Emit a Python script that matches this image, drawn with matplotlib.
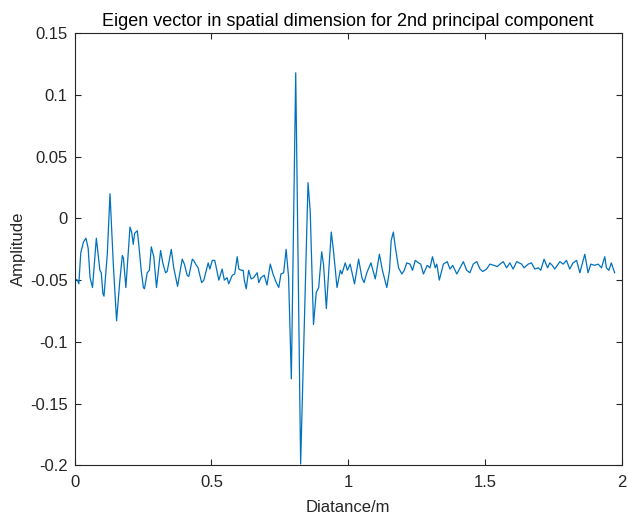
import matplotlib
matplotlib.use("Agg")
import matplotlib.pyplot as plt

plt.rcParams['font.family'] = ['Liberation Sans', 'DejaVu Sans']

# distance along the line (m) and eigenvector amplitude
distance = [
    0.000, 0.010, 0.015, 0.022, 0.032, 0.041, 0.049, 0.056, 0.065, 0.079,
    0.092, 0.097, 0.103, 0.107, 0.119, 0.129, 0.141, 0.153, 0.165, 0.174,
    0.178, 0.187, 0.202, 0.208, 0.214, 0.219, 0.229, 0.235, 0.243, 0.251,
    0.255, 0.265, 0.273, 0.280, 0.289, 0.299, 0.314, 0.322, 0.332, 0.338,
    0.353, 0.362, 0.376, 0.393, 0.401, 0.411, 0.417, 0.430, 0.435, 0.442,
    0.451, 0.464, 0.472, 0.488, 0.494, 0.503, 0.512, 0.527, 0.539, 0.547,
    0.557, 0.563, 0.576, 0.585, 0.594, 0.600, 0.609, 0.616, 0.620, 0.627,
    0.636, 0.645, 0.654, 0.667, 0.673, 0.681, 0.693, 0.703, 0.715, 0.725,
    0.737, 0.746, 0.754, 0.764, 0.773, 0.782, 0.792, 0.808, 0.826, 0.853,
    0.861, 0.873, 0.883, 0.892, 0.903, 0.910, 0.920, 0.938, 0.946, 0.959,
    0.971, 0.977, 0.989, 0.997, 1.007, 1.023, 1.038, 1.050, 1.058, 1.068,
    1.083, 1.099, 1.114, 1.125, 1.141, 1.151, 1.157, 1.165, 1.172, 1.184,
    1.196, 1.205, 1.214, 1.226, 1.235, 1.245, 1.257, 1.265, 1.275, 1.289,
    1.299, 1.308, 1.318, 1.324, 1.333, 1.348, 1.362, 1.372, 1.382, 1.397,
    1.409, 1.421, 1.433, 1.445, 1.457, 1.470, 1.482, 1.492, 1.506, 1.518,
    1.533, 1.545, 1.555, 1.567, 1.579, 1.591, 1.603, 1.616, 1.634, 1.643,
    1.658, 1.670, 1.682, 1.695, 1.704, 1.716, 1.729, 1.737, 1.746, 1.755,
    1.774, 1.786, 1.798, 1.810, 1.822, 1.835, 1.847, 1.865, 1.877, 1.887,
    1.901, 1.914, 1.926, 1.938, 1.944, 1.953, 1.962, 1.974,
]
amplitude = [
    -0.049, -0.050, -0.053, -0.028, -0.019, -0.016, -0.024, -0.048, -0.056, -0.016,
    -0.042, -0.044, -0.061, -0.063, -0.029, 0.020, -0.037, -0.083, -0.050, -0.030,
    -0.032, -0.056, -0.007, -0.011, -0.021, -0.012, -0.010, -0.023, -0.042, -0.056,
    -0.057, -0.044, -0.042, -0.023, -0.031, -0.056, -0.026, -0.036, -0.044, -0.043,
    -0.025, -0.040, -0.055, -0.033, -0.037, -0.046, -0.047, -0.033, -0.034, -0.037,
    -0.040, -0.052, -0.050, -0.036, -0.041, -0.034, -0.034, -0.050, -0.041, -0.050,
    -0.048, -0.053, -0.046, -0.045, -0.031, -0.041, -0.042, -0.042, -0.050, -0.057,
    -0.042, -0.049, -0.048, -0.044, -0.052, -0.048, -0.046, -0.054, -0.037, -0.045,
    -0.052, -0.056, -0.045, -0.044, -0.025, -0.048, -0.130, 0.118, -0.199, 0.029,
    0.006, -0.086, -0.060, -0.056, -0.027, -0.038, -0.073, -0.011, -0.026, -0.056,
    -0.042, -0.045, -0.036, -0.042, -0.037, -0.053, -0.033, -0.048, -0.052, -0.044,
    -0.036, -0.049, -0.029, -0.042, -0.056, -0.042, -0.018, -0.011, -0.023, -0.040,
    -0.045, -0.042, -0.036, -0.037, -0.042, -0.034, -0.036, -0.037, -0.045, -0.038,
    -0.040, -0.031, -0.040, -0.037, -0.050, -0.037, -0.035, -0.041, -0.038, -0.045,
    -0.040, -0.035, -0.042, -0.044, -0.037, -0.035, -0.041, -0.043, -0.041, -0.037,
    -0.038, -0.039, -0.037, -0.035, -0.040, -0.036, -0.041, -0.035, -0.037, -0.040,
    -0.037, -0.036, -0.041, -0.040, -0.042, -0.033, -0.040, -0.036, -0.038, -0.041,
    -0.035, -0.037, -0.034, -0.041, -0.036, -0.034, -0.044, -0.029, -0.044, -0.037,
    -0.038, -0.037, -0.040, -0.031, -0.040, -0.042, -0.036, -0.044,
]

x_ticks = [0, 0.5, 1, 1.5, 2]
x_labels = ['0', '0.5', '1', '1.5', '2']
y_ticks = [-0.2, -0.15, -0.1, -0.05, 0, 0.05, 0.1, 0.15]
y_labels = ['-0.2', '-0.15', '-0.1', '-0.05', '0', '0.05', '0.1', '0.15']

fig = plt.figure(figsize=(6.28, 5.21), dpi=100)
ax = fig.add_axes([0.119, 0.107, 0.871, 0.829])

ax.plot(distance, amplitude, color='#0072BD', linewidth=0.9,
        solid_joinstyle='round')

ax.set_xlim(0, 2)
ax.set_ylim(-0.2, 0.15)
ax.set_xticks(x_ticks)
ax.set_xticklabels(x_labels)
ax.set_yticks(y_ticks)
ax.set_yticklabels(y_labels)

grey = '#262626'
for sp in ax.spines.values():
    sp.set_color(grey)
    sp.set_linewidth(0.8)
ax.tick_params(direction='in', length=4, width=0.8, color=grey,
               labelcolor=grey, labelsize=12, top=True, right=True)
ax.tick_params(axis='x', pad=7)
ax.tick_params(axis='y', pad=5)

ax.set_title('Eigen vector in spatial dimension for 2nd principal component',
             fontsize=13, color='black', pad=5)
ax.set_xlabel('Diatance/m', fontsize=12, color=grey, labelpad=7)
ax.set_ylabel('Amplitude', fontsize=12, color=grey, labelpad=3)

fig.savefig('out.png', dpi=100, facecolor='white')
